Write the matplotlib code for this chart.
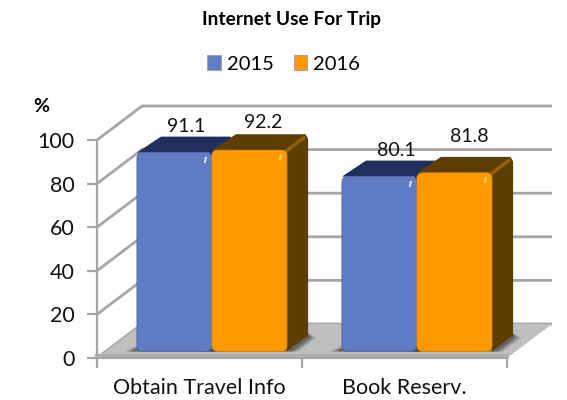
import matplotlib
matplotlib.use("Agg")
import matplotlib.pyplot as plt
from matplotlib.patches import FancyBboxPatch, Polygon, Patch

categories = ["Obtain Travel Info", "Book Reserv."]
years = ["2015", "2016"]
values_2015 = [91.1, 80.1]
values_2016 = [92.2, 81.8]
y_ticks = [0, 20, 40, 60, 80, 100]

W, H = 567, 400
GRID = "#a6a6a6"
FRONT = ["#5f7cc4", "#ff9900"]
EDGE = ["#4a62a0", "#e88a00"]
TOP = ["#202f5c", "#5e3d00"]
SIDE = ["#2a3c70", "#5e3d00"]
FONT = "Lato"

fig = plt.figure(figsize=(W / 100, H / 100), dpi=100)
left, right, top, bottom = 97, 507, 140, 358
ax = fig.add_axes([left / W, 1 - bottom / H, (right - left) / W, (bottom - top) / H])
ax.set_xlim(0, 2)
ax.set_ylim(0, 100)

# one depth unit runs from the front of the floor to the back wall
px_x = 205.0
px_y = 2.18
depth_x = 45 / px_x
depth_y = 34 / px_y


def project(x, y, d):
    return x + d * depth_x, y + d * depth_y


# back wall grid and the diagonals on the side wall
for v in y_ticks:
    xs, ys = zip(project(0, v, 0), project(0, v, 1), project(2, v, 1))
    ax.plot(xs, ys, color=GRID, lw=2, clip_on=False, zorder=1, solid_capstyle="butt")

# floor with its thin front lip
ax.add_patch(Polygon([project(0, 0, 0), project(2, 0, 0), project(2, 0, 1), project(0, 0, 1)],
                     facecolor="#bfbfbf", edgecolor="none", clip_on=False, zorder=2))
ax.plot([0, 2], [1.0, 1.0], color="#b0b0b0", lw=3, clip_on=False, zorder=2.1)


def draw_bar(x0, width, value, i):
    d0, d1 = 0.2, 0.67
    x1 = x0 + width
    cut = 0.014
    drop = 2.2

    # soft shadow on the floor, widening to the lower left and to the right
    for grow, alpha in ((0.055, 0.22), (0.04, 0.28), (0.025, 0.36)):
        ax.add_patch(Polygon([project(x0 - grow, 0, d0 - 0.01), project(x1 + grow, 0, d0 - 0.01),
                              project(x1 + grow, 0, d1 - 0.08), project(x1, 0, d1 + 0.03),
                              project(x0, 0, d1)],
                             facecolor="#303030", alpha=alpha, edgecolor="none",
                             clip_on=False, zorder=3))

    ax.add_patch(Polygon([project(x1, 0, d0), project(x1, 0, d1),
                          project(x1, value - drop, d1), project(x1 - cut, value, d1),
                          project(x1 - cut, value, d0)],
                         facecolor=SIDE[i], edgecolor="none", clip_on=False, zorder=4 + i))
    ax.add_patch(Polygon([project(x0, value, d0), project(x0 + cut, value, d1),
                          project(x1 - cut, value, d1), project(x1, value - drop, d1),
                          project(x1, value, d0)],
                         facecolor=TOP[i], edgecolor="none", clip_on=False, zorder=4 + i))
    if i == 1:
        # lit rim along the upper back corner of the orange block
        ax.plot(*zip(project(x1 - 0.012, value - 1, d0), project(x1 - 0.012, value - 1, d1 - 0.04)),
                color="#94600a", lw=2.5, solid_capstyle="round", clip_on=False, zorder=4.5 + i)

    fx, fy = project(x0, 0, d0)
    ax.add_patch(FancyBboxPatch((fx, fy), width, value, mutation_aspect=px_x / px_y,
                                boxstyle="round,pad=0,rounding_size=0.028",
                                facecolor=FRONT[i], edgecolor=EDGE[i], lw=0.6,
                                clip_on=False, zorder=5 + i))
    # specular fleck at the corner
    ax.plot([fx + width - 0.03, fx + width - 0.034], [fy + value - 2.4, fy + value - 4.2],
            lw=1.6, color="#cfe0ff" if i == 0 else "#ffd24a", clip_on=False, zorder=5.6 + i)


bar_w = 75 / px_x
offsets = [0.151, 0.151 + bar_w]
label_lift = [[26, 28], [26, 36]]
label_shift = [[12, 14], [17, 15]]
series = [values_2015, values_2016]
for g in range(len(categories)):
    for s in range(2):
        draw_bar(g + offsets[s], bar_w, series[s][g], s)
        fx, fy = project(g + offsets[s] + bar_w / 2, series[s][g], 0.2)
        ax.annotate(f"{series[s][g]:.1f}", (fx, fy),
                    xytext=(label_shift[g][s] * 0.72, label_lift[g][s] * 0.72),
                    textcoords="offset points", ha="center", va="center",
                    fontsize=14, family=FONT, color="#111111", zorder=10, annotation_clip=False)

# axes
for name in ("top", "right"):
    ax.spines[name].set_visible(False)
for name in ("left", "bottom"):
    ax.spines[name].set_color(GRID)
    ax.spines[name].set_linewidth(1.6)
    ax.spines[name].set_zorder(8)
ax.patch.set_alpha(0)
ax.set_yticks(y_ticks)
ax.set_xticks([0, 1, 2])
ax.set_xticklabels([])
ax.set_xticks([0.5, 1.5], labels=categories, minor=True)
ax.tick_params(axis="x", which="minor", length=0, pad=14.5, labelsize=15.5)
ax.tick_params(axis="x", which="major", length=7, width=1.6, color=GRID)
ax.tick_params(axis="y", length=7, width=1.6, color=GRID, pad=9, labelsize=15.5)
for lab in ax.get_xticklabels(minor=True) + ax.get_yticklabels():
    lab.set_family(FONT)
    lab.set_color("#111111")

fig.text(291 / W, 1 - 19 / H, "Internet Use For Trip", ha="center", va="center",
         fontsize=13.8, fontweight="bold", family=FONT)
fig.text(41 / W, 1 - 106 / H, "%", ha="center", va="center", fontsize=14,
         fontweight="bold", family=FONT)

handles = [Patch(facecolor=FRONT[i], edgecolor=GRID, lw=0.8) for i in range(2)]
fig.legend(handles, years, loc="center", bbox_to_anchor=(283.5 / W, 1 - 64 / H), ncol=2,
           frameon=False, prop={"family": FONT, "size": 14.5}, handlelength=0.65, handleheight=0.7,
           handletextpad=0.3, columnspacing=1.0)

fig.savefig("out.png", dpi=100)
